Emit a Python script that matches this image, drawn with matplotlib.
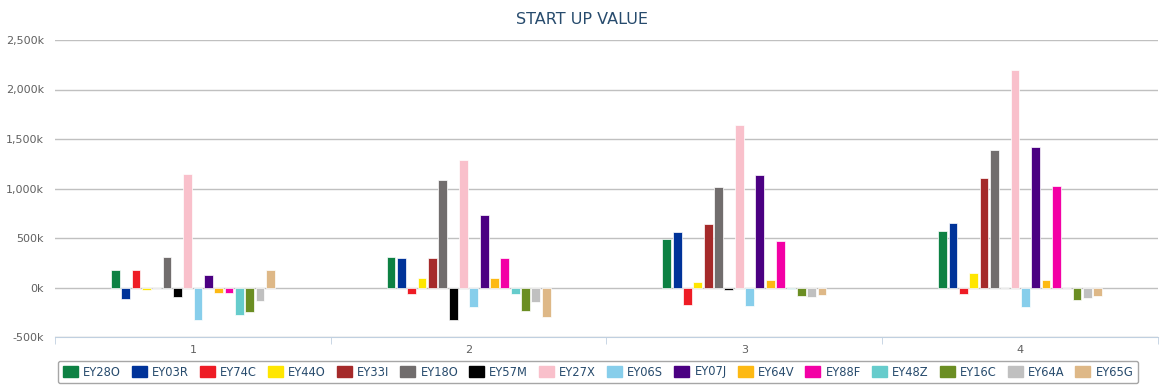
import numpy as np
import matplotlib.pyplot as plt
from matplotlib.patches import Patch

# values in thousands
categories = ['1', '2', '3', '4']
series_names = ['EY28O', 'EY03R', 'EY74C', 'EY44O', 'EY33I', 'EY18O', 'EY57M', 'EY27X',
                'EY06S', 'EY07J', 'EY64V', 'EY88F', 'EY48Z', 'EY16C', 'EY64A', 'EY65G']
colors = ['#0d8143', '#003399', '#ee1c25', '#ffe600', '#a52a2a', '#716d6d', '#000000', '#f9c0cb',
          '#87ceeb', '#4b0082', '#fdb913', '#f300a5', '#66cccc', '#6b8e23', '#c0c0c0', '#deb887']

EY28O = [172, 313, 486, 567]
EY03R = [-120, 293, 557, 648]
EY74C = [172, -70, -180, -65]
EY44O = [-30, 91, 52, 142]
EY33I = [0, 303, 638, 1103]
EY18O = [313, 1083, 1013, 1387]
EY57M = [-100, -324, -25, 0]
EY27X = [1143, 1285, 1640, 2197]
EY06S = [-330, -200, -190, -200]
EY07J = [130, 728, 1134, 1417]
EY64V = [-55, 101, 80, 80]
EY88F = [-55, 293, 466, 1022]
EY48Z = [-280, -65, -15, 0]
EY16C = [-250, -240, -85, -130]
EY64A = [-140, -150, -95, -110]
EY65G = [172, -300, -75, -90]

series = [EY28O, EY03R, EY74C, EY44O, EY33I, EY18O, EY57M, EY27X,
          EY06S, EY07J, EY64V, EY88F, EY48Z, EY16C, EY64A, EY65G]

fig = plt.figure(figsize=(11.65, 3.91), dpi=100)
ax = fig.add_axes([55/1165, (391-337)/391, (1158-55)/1165, (337-40)/391])

n = len(series)
x = np.arange(len(categories))
group_w = 0.6
slot = group_w / n
for i, vals in enumerate(series):
    pos = x - group_w/2 + slot*(i + 0.5)
    ax.bar(pos, vals, width=slot*0.85, color=colors[i], edgecolor='white', linewidth=0.5, zorder=3)

ax.set_xlim(-0.5, len(categories) - 0.5)
ax.set_ylim(-500, 2500)
ax.set_yticks(np.arange(-500, 2501, 500))
ax.set_yticklabels(['{:,}k'.format(v) for v in range(-500, 2501, 500)], color='#606060', fontsize=8)
ax.yaxis.grid(True, color='#c0c0c0', linewidth=1, zorder=0)
ax.tick_params(axis='y', length=0, pad=8)

ax.set_xticks(x)
ax.set_xticklabels(categories, color='#606060', fontsize=8)
ax.set_xticks(np.arange(-0.5, len(categories)), minor=True)
ax.tick_params(axis='x', which='major', length=0, pad=6)
ax.tick_params(axis='x', which='minor', length=5, color='#c0d0e0')

for s in ['top', 'right', 'left']:
    ax.spines[s].set_visible(False)
ax.spines['bottom'].set_color('#c0d0e0')

fig.text(0.5, 1 - 19/391, 'START UP VALUE', ha='center', va='center', color='#274b6d', fontsize=11.5)

handles = [Patch(facecolor=c, edgecolor=c) for c in colors]
leg = fig.legend(handles, series_names, loc='center', bbox_to_anchor=(598/1165, 1 - 372/391),
                 ncol=n, fontsize=8.3, frameon=True, fancybox=True, handlelength=1.3, handleheight=1.0,
                 handletextpad=0.45, columnspacing=0.95, borderpad=0.4, borderaxespad=0)
for t in leg.get_texts():
    t.set_color('#274b6d')
leg.get_frame().set_edgecolor('#909090')
leg.get_frame().set_linewidth(1)

fig.savefig('out.png', dpi=100)
